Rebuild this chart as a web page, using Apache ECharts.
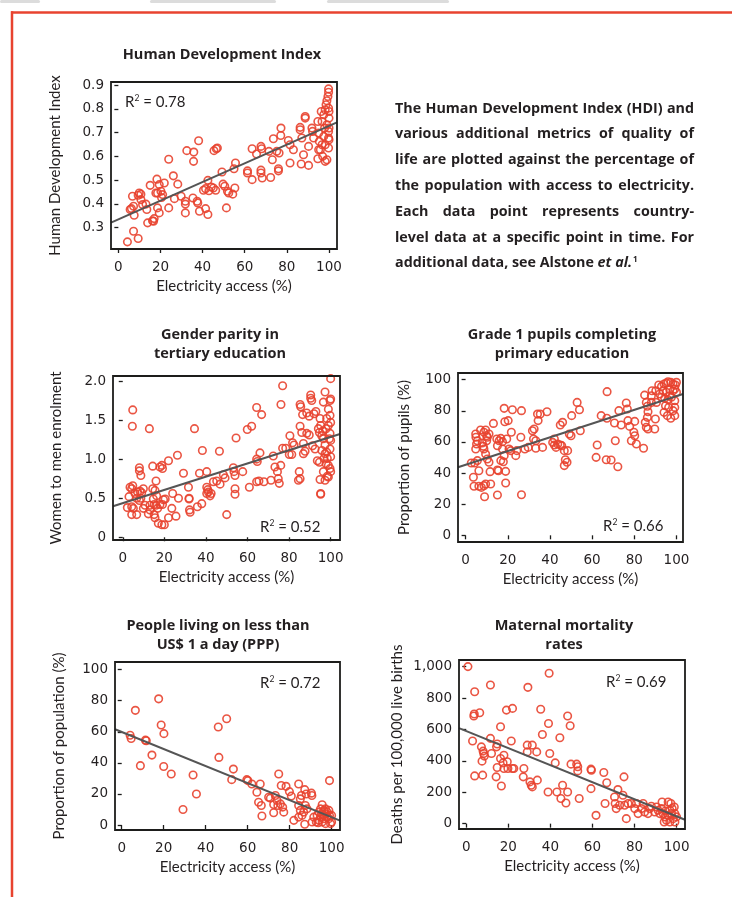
<!DOCTYPE html>
<html>
<head>
<meta charset="utf-8">
<script src="https://cdn.jsdelivr.net/npm/echarts@6/dist/echarts.min.js"></script>
<style>
  html, body { margin: 0; padding: 0; background: #fff; }
  #chart { width: 732px; height: 897px; }
</style>
</head>
<body>
<div id="chart"></div>
<script>
// values: [electricity access %, metric]
const hdiPoints = [
  [4.3,0.240],[9.4,0.254],[7.2,0.285],[6.2,0.380],[7.2,0.390],[5.6,0.376],[6.7,0.432],[9.9,0.446],[10.7,0.441],[9.4,0.436],
  [10.7,0.418],[11.5,0.397],[7.5,0.352],[13.9,0.320],[16.2,0.329],[16.7,0.327],[17.0,0.338],[15.1,0.478],[18.3,0.504],[19.4,0.481],
  [17.8,0.446],[18.6,0.446],[20.2,0.453],[21.0,0.439],[21.8,0.488],[20.5,0.427],[13.5,0.376],[13.1,0.399],[19.4,0.362],[18.6,0.383],
  [23.9,0.383],[23.9,0.588],[26.1,0.518],[28.2,0.483],[26.6,0.422],[29.8,0.432],[31.8,0.411],[31.8,0.399],[31.8,0.362],[32.5,0.624],
  [35.8,0.618],[35.7,0.579],[38.1,0.666],[35.4,0.425],[37.4,0.411],[37.7,0.404],[38.5,0.369],[41.4,0.380],[42.5,0.355],[40.4,0.457],
  [41.4,0.464],[43.0,0.455],[44.1,0.471],[46.2,0.457],[45.1,0.467],[42.5,0.499],[45.4,0.624],[46.5,0.632],[47.0,0.635],[49.2,0.534],
  [49.7,0.483],[50.5,0.474],[51.8,0.453],[52.4,0.446],[54.3,0.441],[55.3,0.467],[51.3,0.383],[55.6,0.572],[54.9,0.548],
  [61.3,0.530],[61.3,0.539],[63.5,0.502],[63.5,0.632],[65.6,0.610],[67.7,0.642],[68.0,0.632],[67.7,0.542],[67.7,0.530],[68.3,0.509],
  [72.3,0.511],[71.5,0.621],[73.1,0.586],[73.6,0.674],[75.2,0.621],[76.3,0.614],[76.0,0.548],[76.0,0.539],[77.2,0.719],[77.1,0.688],
  [80.7,0.667],[81.5,0.649],[83.1,0.628],[81.5,0.572],[86.3,0.722],[86.3,0.712],[87.1,0.677],[87.9,0.607],[86.8,0.568],[88.7,0.768],
  [88.7,0.761],[90.3,0.642],[90.3,0.562],[91.9,0.719],[92.2,0.705],[92.7,0.677],[94.7,0.747],[95.1,0.698],[95.4,0.663],[95.9,0.628],
  [94.7,0.590],[96.3,0.789],[96.7,0.747],[97.5,0.684],[98.2,0.579],[99.0,0.586],[97.5,0.775],[98.6,0.817],[99.0,0.834],[99.8,0.884],
  [99.8,0.870],[99.5,0.852],[99.8,0.803],[100,0.761],[99.0,0.733],[99.8,0.705],[100,0.670],[99.8,0.635],[98.2,0.649],[96.7,0.649],
  [97.9,0.719],[100,0.789],[95.1,0.628],[97.0,0.600],[99.8,0.677],[98.2,0.796],[100,0.719]
]
const genderPoints = [
  [4.8,1.63],[4.6,1.42],[12.8,1.39],[34.5,1.39],[26.3,1.05],[22.0,0.98],[18.8,0.92],[17.9,0.90],[19.1,0.88],[14.4,0.91],
  [16.0,0.72],[8.0,0.89],[8.0,0.85],[8.7,0.79],[3.5,0.64],[4.8,0.66],[4.3,0.62],[5.9,0.56],[7.1,0.58],[8.3,0.59],
  [9.1,0.57],[9.9,0.62],[8.7,0.50],[6.7,0.50],[8.0,0.47],[3.0,0.52],[2.2,0.38],[4.3,0.39],[5.1,0.37],[4.3,0.29],
  [6.7,0.29],[9.9,0.37],[10.7,0.41],[13.1,0.41],[13.1,0.35],[12.3,0.30],[14.4,0.62],[15.5,0.60],[14.7,0.49],[16.3,0.53],
  [15.1,0.42],[16.0,0.41],[16.8,0.37],[17.9,0.42],[19.1,0.42],[19.6,0.48],[20.4,0.49],[15.1,0.29],[15.5,0.25],[17.1,0.18],
  [18.8,0.16],[20.0,0.16],[22.0,0.25],[23.6,0.37],[24.0,0.56],[26.8,0.50],[25.6,0.27],[29.2,0.82],[31.6,0.64],[31.9,0.50],
  [31.9,0.49],[32.1,0.35],[32.4,0.32],[35.9,0.39],[38.0,0.43],[36.9,0.82],[40.4,0.84],[38.3,1.11],[40.4,0.64],[40.9,0.61],
  [41.2,0.58],[40.4,0.56],[42.0,0.53],[42.5,0.56],[43.6,0.71],[45.2,0.72],[46.8,0.68],[46.5,1.10],[50.0,0.29],[48.4,0.80],
  [49.2,0.76],[53.2,0.89],[53.5,0.84],[54.0,0.79],[54.0,0.62],[54.0,0.55],[54.5,1.27],[57.7,0.84],[59.9,1.38],[62.0,1.42],
  [64.4,1.66],[66.8,1.57],[60.9,0.64],[64.4,0.71],[65.5,0.72],[67.9,0.71],[71.3,0.73],[74.8,0.75],[75.3,0.69],[64.4,1.00],
  [64.7,0.97],[66.0,1.08],[72.4,1.04],[73.2,0.90],[74.4,0.84],[76.0,0.92],[76.9,1.14],[78.4,1.14],[80.4,1.30],[81.7,1.21],
  [82.4,1.18],[81.3,1.06],[80.1,1.06],[76.1,1.70],[76.9,1.94],[84.9,0.84],[85.3,0.75],[84.5,0.73],[85.3,1.70],[85.6,1.67],
  [86.5,1.57],[85.3,1.42],[86.1,1.34],[88.5,1.33],[89.7,1.31],[86.9,1.20],[87.7,1.10],[86.9,1.07],[88.5,1.59],[89.7,1.55],
  [90.4,1.82],[90.4,1.78],[90.9,1.75],[92.0,1.58],[92.9,1.61],[94.1,1.39],[94.6,1.34],[94.9,0.74],[95.2,0.56],[95.2,0.55],
  [94.9,1.52],[95.2,1.43],[96.2,1.36],[96.5,1.26],[97.3,1.18],[98.1,1.09],[98.4,1.01],[98.9,0.92],[99.7,0.88],[100,0.84],
  [98.1,1.52],[98.9,1.43],[99.7,1.33],[100,1.24],[99.7,1.13],[100,1.03],[97.8,0.94],[96.5,0.84],[98.9,0.77],[100,1.77],
  [99.7,1.75],[96.5,1.73],[97.3,1.86],[100,2.03],[92.5,1.13],[93.6,0.98],[94.6,0.96],[97.8,1.39],[95.8,1.11],[96.8,1.01],
  [99.7,1.56],[100,1.47],[97.3,0.73],[98.4,0.78],[95.7,1.30],[99.4,1.26],[97.3,1.07],[98.9,1.64],[91.3,1.17]
]
const pupilPoints = [
  [2.7,46.5],[4.3,46.5],[5.6,48.0],[3.7,37.3],[4.0,31.5],[6.3,31.5],[7.5,30.8],[8.7,31.9],[9.5,33.0],[11.9,33.0],
  [9.0,24.8],[15.1,25.9],[26.5,26.1],[6.3,41.5],[19.0,33.6],[11.6,40.9],[15.1,42.0],[15.6,41.5],[19.0,41.1],[4.8,65.1],
  [4.9,63.0],[5.6,60.8],[5.2,58.7],[4.8,55.5],[7.1,67.7],[8.7,66.2],[9.5,67.7],[10.0,64.0],[10.3,63.0],[11.1,65.1],
  [7.9,59.3],[8.4,57.2],[8.7,55.5],[9.5,52.2],[10.3,49.0],[11.1,46.9],[10.0,60.8],[13.2,71.9],[18.3,81.6],[22.2,80.7],
  [26.5,80.1],[18.6,73.0],[20.2,73.7],[21.7,66.2],[14.8,61.9],[15.9,60.8],[16.7,62.3],[17.5,60.2],[19.5,61.9],[15.1,57.6],
  [17.5,55.5],[20.6,55.5],[18.3,51.2],[16.7,48.0],[17.9,47.3],[21.4,54.4],[23.8,51.2],[24.3,54.4],[26.2,63.0],[28.1,55.5],
  [29.7,56.5],[31.7,67.2],[32.5,68.3],[32.2,61.9],[33.3,60.8],[33.3,55.9],[36.5,56.5],[34.1,77.9],[35.4,77.9],[34.4,73.7],
  [38.6,79.4],[42.1,61.9],[41.3,59.7],[42.1,58.0],[42.9,56.5],[43.7,58.7],[44.9,58.0],[45.6,57.6],[44.9,70.9],[46.0,72.6],
  [49.2,65.1],[50.0,64.0],[50.3,76.9],[52.9,85.4],[54.0,80.7],[54.4,67.2],[46.8,54.4],[48.4,54.4],[47.3,48.6],[48.1,46.9],
  [46.8,44.8],[62.4,58.0],[61.9,50.1],[66.7,48.6],[69.0,48.4],[72.2,44.1],[71.0,60.8],[67.1,92.3],[64.3,76.9],[67.0,75.2],
  [70.6,72.2],[72.7,80.1],[73.8,70.9],[76.2,85.0],[76.7,81.2],[77.0,73.7],[77.8,70.0],[80.2,73.2],[78.6,60.8],[79.8,66.2],
  [80.2,64.0],[81.0,58.7],[84.4,55.9],[84.9,90.1],[85.7,85.4],[86.2,82.9],[86.5,79.4],[86.2,75.8],[85.2,72.6],[85.7,69.4],
  [86.5,68.3],[88.1,85.4],[88.4,92.9],[90.0,74.7],[89.7,68.3],[88.1,89.7],[90.5,85.4],[90.2,92.9],[91.6,96.6],[92.9,95.7],
  [94.1,97.2],[95.2,97.9],[96.0,98.7],[97.3,98.3],[98.4,97.2],[99.5,96.6],[93.7,92.9],[95.2,91.9],[96.8,93.6],[98.4,92.9],
  [100,91.9],[92.9,88.7],[94.4,88.0],[96.0,87.2],[97.6,88.7],[99.2,86.5],[94.8,83.3],[96.3,82.2],[98.4,80.1],[99.2,82.2],
  [94.1,79.0],[95.7,76.9],[97.3,75.2],[99.2,76.9],[92.1,90.8],[100,98.3],[99.2,94.0],[96.8,89.7]
]
const povertyPoints = [
  [17.6,81.2],[6.5,73.8],[18.8,64.4],[20.1,58.8],[4.0,57.8],[4.5,55.7],[11.3,54.6],[11.7,54.2],[14.4,45.0],[8.9,38.2],
  [20.0,37.7],[23.6,32.8],[34.0,32.2],[35.6,20.0],[29.2,10.0],[46.0,63.1],[50.0,68.4],[46.3,43.5],[53.2,36.0],[52.4,29.2],
  [59.6,29.2],[60.1,28.6],[62.0,26.4],[66.0,26.4],[64.4,21.1],[65.2,14.7],[66.5,12.6],[66.8,5.8],[74.8,32.8],[76.0,25.4],
  [78.3,24.9],[79.9,21.5],[80.8,18.6],[70.0,17.9],[70.8,17.3],[73.2,19.0],[74.0,15.8],[72.4,13.2],[74.4,12.6],[76.7,11.5],
  [77.2,8.3],[72.4,7.9],[75.6,13.6],[82.0,3.0],[84.3,26.4],[85.1,16.8],[85.6,19.0],[87.2,22.8],[87.9,20.0],[90.4,20.5],
  [90.6,19.0],[99.0,28.6],[84.3,12.6],[85.1,9.4],[85.9,6.2],[86.7,8.3],[87.5,12.6],[88.3,10.4],[87.2,0.5],[84.3,5.1],
  [90.7,1.9],[91.5,5.1],[93.1,6.2],[93.9,8.3],[94.7,10.4],[95.5,13.0],[96.3,9.4],[97.1,7.2],[97.9,5.1],[98.7,4.1],
  [99.5,0.9],[100,1.9],[93.9,3.0],[95.5,1.9],[97.1,0.9],[97.9,8.3],[99.0,6.2],[95.2,7.2],[92.7,1.9],[96.3,4.1],
  [98.7,9.4],[100,6.2],[94.7,5.1],[97.1,10.4],[93.6,1.5],[96.0,6.2]
]
const maternalPoints = [
  [0.8,1000],[39.4,958],[4.0,840],[11.5,883],[29.3,868],[3.8,698],[3.6,685],[6.4,706],[19.1,723],[22.0,734],
  [35.4,728],[16.3,617],[39.1,638],[48.2,685],[49.4,623],[36.2,568],[44.5,547],[3.0,526],[11.5,543],[21.4,526],
  [14.7,507],[14.4,489],[7.2,489],[8.0,462],[8.3,447],[8.6,430],[12.0,447],[17.9,436],[29.0,500],[31.4,500],
  [29.0,457],[33.5,457],[39.7,447],[42.3,387],[7.5,398],[17.5,387],[19.5,394],[14.7,358],[17.9,351],[19.8,351],
  [21.9,351],[22.6,351],[16.3,415],[4.0,304],[7.8,309],[14.2,298],[16.7,240],[27.4,351],[27.1,298],[30.3,266],
  [30.9,245],[31.4,234],[33.8,277],[38.9,202],[43.1,202],[45.0,160],[47.4,132],[48.2,202],[53.7,160],[45.8,245],
  [49.8,379],[52.5,379],[53.0,362],[53.0,336],[59.3,347],[59.5,340],[59.3,223],[61.7,53],[65.4,326],[66.8,260],
  [66.0,128],[72.1,217],[75.0,298],[70.5,170],[70.8,128],[71.3,96],[72.9,117],[74.5,181],[75.3,117],[76.1,32],
  [76.9,128],[78.5,128],[80.1,96],[80.9,128],[81.7,64],[83.3,96],[84.1,128],[84.8,74],[86.4,64],[87.2,96],
  [88.0,111],[89.6,74],[90.4,106],[91.2,85],[92.0,64],[92.8,96],[93.6,64],[94.4,43],[95.2,21],[96.0,53],
  [96.8,85],[97.6,64],[98.4,32],[99.2,11],[100,43],[93.1,138],[96.0,138],[97.3,128],[94.1,11],[96.8,11],
  [99.2,64],[97.9,96],[94.7,81],[98.9,106]
]

// fitted lines, end points read at the box edges
const hdiFit = [[-3.5,0.321],[103.8,0.743]]
const genderFit = [[-4.7,0.396],[104.5,1.321]]
const pupilFit = [[-3.6,43.7],[103.1,90.8]]
const povertyFit = [[-3.2,61.6],[104,2.8]]
const maternalFit = [[-3.45,608],[104,25]]

const accessTicks = [0, 20, 40, 60, 80, 100]
const hdiTicks = [0.3, 0.4, 0.5, 0.6, 0.7, 0.8, 0.9]
const genderTicks = [0, 0.5, 1.0, 1.5, 2.0]
const pupilTicks = [0, 20, 40, 60, 80, 100]
const povertyTicks = [0, 20, 40, 60, 80, 100]
const maternalTicks = [0, 200, 400, 600, 800, 1000]

const panelTitles = [
  'Human Development Index',
  'Gender parity in\ntertiary education',
  'Grade 1 pupils completing\nprimary education',
  'People living on less than\nUS$ 1 a day (PPP)',
  'Maternal mortality\nrates'
]
const yNames = [
  'Human Development Index',
  'Women to men enrolment',
  'Proportion of pupils (%)',
  'Proportion of population (%)',
  'Deaths per 100,000 live births'
]
const r2Values = ['0.78', '0.52', '0.66', '0.72', '0.69']
const xName = 'Electricity access (%)'

const noteLines = [
  'The Human Development Index (HDI) and',
  'various additional metrics of quality of',
  'life are plotted against the percentage of',
  'the population with access to electricity.',
  'Each data point represents country-',
  'level data at a specific point in time. For'
]

const RED = '#e8432f'
const INK = '#231f20'
const BOX = '#1d1d1b'
const LABEL_FONT = 'DejaVu Sans'
const TEXT_FONT = 'Lato'
const BOLD_FONT = 'Open Sans'

const panels = [
  {points: hdiPoints, fit: hdiFit, yTicks: hdiTicks, grid: {left: 111, top: 82, width: 226, height: 167},
   x: [-3.5, 103.8], y: [0.21, 0.913], fmt: v => v.toFixed(1), yGap: 48,
   title: [222, 55], r2: [125, 102]},
  {points: genderPoints, fit: genderFit, yTicks: genderTicks, grid: {left: 113, top: 376, width: 227, height: 164},
   x: [-4.7, 104.5], y: [-0.035, 2.064], fmt: v => v === 0 ? '0' : v.toFixed(1), yGap: 49,
   title: [220, 344], r2: [260, 527]},
  {points: pupilPoints, fit: pupilFit, yTicks: pupilTicks, grid: {left: 458, top: 373, width: 225, height: 169},
   x: [-3.6, 103.1], y: [-4.3, 104.3], fmt: v => String(v), yGap: 46,
   title: [562, 344], r2: [603, 526]},
  {points: povertyPoints, fit: povertyFit, yTicks: povertyTicks, grid: {left: 115, top: 662, width: 225, height: 168},
   x: [-3.2, 104], y: [-3.2, 104.9], fmt: v => String(v), yGap: 48,
   title: [218, 635.5], r2: [260, 683]},
  {points: maternalPoints, fit: maternalFit, yTicks: maternalTicks, grid: {left: 459, top: 660, width: 226, height: 169},
   x: [-3.45, 104], y: [-34, 1042], fmt: v => v.toLocaleString('en-US'), yGap: 54,
   title: [564, 635.5], r2: [606, 682]}
]

const chart = echarts.init(document.getElementById('chart'), null, {renderer: 'canvas'})

const grids = [], xAxes = [], yAxes = [], series = []
panels.forEach((p, i) => {
  grids.push(Object.assign({show: false}, p.grid))
  xAxes.push({
    type: 'value', gridIndex: i, min: p.x[0], max: p.x[1],
    name: xName, nameLocation: 'middle', nameGap: 30,
    nameTextStyle: {fontFamily: TEXT_FONT, fontSize: 15, color: INK},
    axisLine: {show: false}, splitLine: {show: false},
    axisTick: {show: true, length: 4, customValues: accessTicks, lineStyle: {color: BOX, width: 1.3}},
    axisLabel: {customValues: accessTicks, margin: 11, fontFamily: LABEL_FONT, fontSize: 13.5, color: INK}
  })
  yAxes.push({
    type: 'value', gridIndex: i, min: p.y[0], max: p.y[1],
    name: yNames[i], nameLocation: 'middle', nameGap: p.yGap, nameRotate: 90,
    nameTextStyle: {fontFamily: TEXT_FONT, fontSize: 15, color: INK},
    axisLine: {show: false}, splitLine: {show: false},
    axisTick: {show: true, length: 4, customValues: p.yTicks, lineStyle: {color: BOX, width: 1.3}},
    axisLabel: {customValues: p.yTicks, margin: 7, formatter: p.fmt, fontFamily: LABEL_FONT, fontSize: 13.5, color: INK}
  })
  series.push({
    type: 'scatter', xAxisIndex: i, yAxisIndex: i, data: p.points,
    symbol: 'circle', symbolSize: 7.5, silent: true,
    itemStyle: {color: 'rgba(0,0,0,0)', borderColor: RED, borderWidth: 1.6, opacity: 0.9}
  })
  series.push({
    type: 'line', xAxisIndex: i, yAxisIndex: i, data: p.fit, symbol: 'none', silent: true, z: 5,
    lineStyle: {color: '#555', width: 2}
  })
})

// justify paragraph lines across a fixed width
const measureCtx = document.createElement('canvas').getContext('2d')
const noteFont = 'bold 14.3px "' + BOLD_FONT + '"'
measureCtx.font = noteFont
const noteLeft = 395, noteWidth = 299, noteTop = 108.5, noteStep = 25.8
const noteElements = []
noteLines.forEach((line, k) => {
  const words = line.split(' ')
  const widths = words.map(w => measureCtx.measureText(w).width)
  const total = widths.reduce((a, b) => a + b, 0)
  const gap = Math.max(2.5, (noteWidth - total) / (words.length - 1))
  let cx = noteLeft
  words.forEach((w, j) => {
    noteElements.push({type: 'text', x: cx, y: noteTop + k * noteStep,
      style: {text: w, font: noteFont, fill: INK, verticalAlign: 'middle'}})
    cx += widths[j] + gap
  })
})
noteElements.push({type: 'text', x: noteLeft, y: noteTop + 6 * noteStep,
  style: {
    text: 'additional data, see Alstone {i|et al.}{sup|1}', font: noteFont, fill: INK, verticalAlign: 'middle',
    rich: {
      i: {fontStyle: 'italic', fontWeight: 'bold', fontFamily: BOLD_FONT, fontSize: 14.3, fill: INK},
      sup: {fontWeight: 'bold', fontFamily: BOLD_FONT, fontSize: 8, fill: INK, verticalAlign: 'top', padding: [0, 0, 8, 1]}
    }
  }})

const graphics = [
  // browser tab shadows along the top edge
  {type: 'rect', shape: {x: 0, y: 0, width: 40, height: 3, r: 1.5}, style: {fill: '#dcdcdc'}},
  {type: 'rect', shape: {x: 150, y: 0, width: 126, height: 3, r: 1.5}, style: {fill: '#dcdcdc'}},
  {type: 'rect', shape: {x: 327, y: 0, width: 122, height: 3, r: 1.5}, style: {fill: '#dcdcdc'}},
  // red frame
  {type: 'line', shape: {x1: 11, y1: 12.5, x2: 732, y2: 12.5}, style: {stroke: RED, lineWidth: 2.5}},
  {type: 'line', shape: {x1: 12, y1: 11.3, x2: 12, y2: 897}, style: {stroke: RED, lineWidth: 2.5}}
]
panels.forEach((p, i) => {
  const g = p.grid
  // plot frame
  graphics.push({type: 'rect', z: 10, shape: {x: g.left, y: g.top, width: g.width, height: g.height},
    style: {fill: 'none', stroke: BOX, lineWidth: 1.8}})
  graphics.push({type: 'text', x: p.title[0], y: p.title[1],
    style: {text: panelTitles[i], font: 'bold 14.5px "' + BOLD_FONT + '"', fill: INK,
      align: 'center', verticalAlign: 'middle', lineHeight: 19}})
  graphics.push({type: 'text', x: p.r2[0], y: p.r2[1],
    style: {text: 'R{s|2} = ' + r2Values[i], fontFamily: TEXT_FONT, fontSize: 15, fill: INK, verticalAlign: 'middle',
      rich: {s: {fontFamily: TEXT_FONT, fontSize: 8.5, fill: INK, verticalAlign: 'top', padding: [0, 0, 7, 0]}}}})
})

chart.setOption({
  animation: false,
  backgroundColor: '#fff',
  grid: grids,
  xAxis: xAxes,
  yAxis: yAxes,
  series: series,
  graphic: graphics.concat(noteElements)
})
</script>
</body>
</html>
